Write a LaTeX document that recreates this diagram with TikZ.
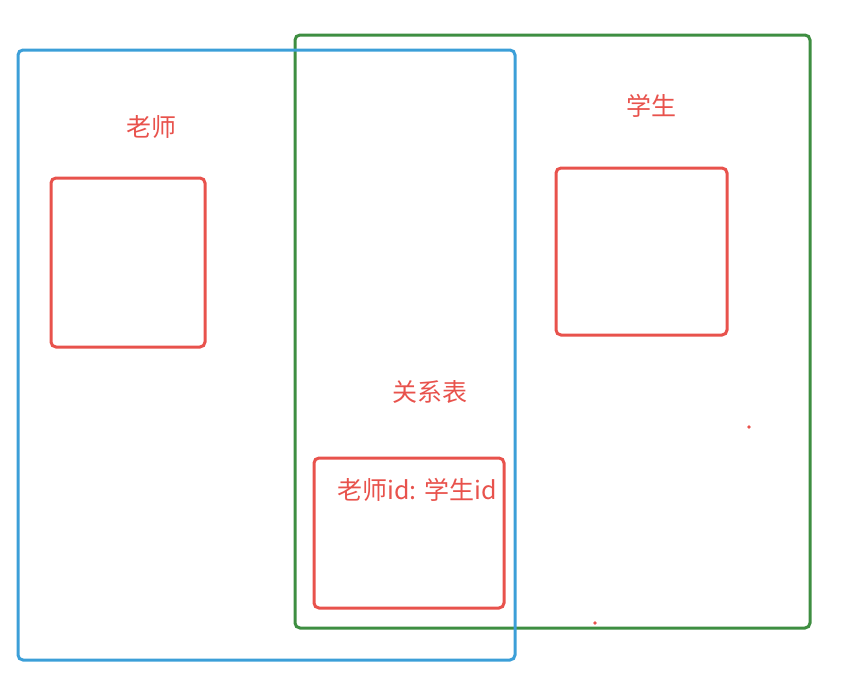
\documentclass[tikz,border=0pt]{standalone}
\usepackage{fontspec}
\newfontfamily\cjk{Noto Sans CJK SC}
\definecolor{bluebox}{HTML}{3C9FD8}
\definecolor{greenbox}{HTML}{3E8E41}
\definecolor{redbox}{HTML}{E8524C}
\tikzset{
  frame/.style={line width=3pt, rounded corners=5pt},
  tbl/.style={draw=redbox, line width=3pt, rounded corners=5pt},
  lbl/.style={text=redbox, font=\cjk\fontsize{25}{28}\selectfont, inner sep=0pt}
}
\begin{document}
\begin{tikzpicture}[x=1pt,y=-1pt]
\useasboundingbox (0,0) rectangle (841,680);
\draw[frame, draw=greenbox] (295,35) rectangle (810,628);
\draw[frame, draw=bluebox] (18,50) rectangle (515,660);
\node[tbl, minimum width=154pt, minimum height=169pt] (teacher) at (128,262.5) {};
\node[tbl, minimum width=171pt, minimum height=167pt] (student) at (641.5,251.5) {};
\node[tbl, minimum width=190pt, minimum height=150pt] (rel) at (409,533) {};
\node[lbl] (tlabel) at (151,127) {老师};
\node[lbl] (slabel) at (651,106) {学生};
\node[lbl] (rlabel) at (430,392) {关系表};
\node[lbl] (rcontent) at (417,490) {老师id: 学生id};
\fill[redbox] (749,427) circle (1.8pt);
\fill[redbox] (595,623) circle (1.8pt);
\end{tikzpicture}
\end{document}
